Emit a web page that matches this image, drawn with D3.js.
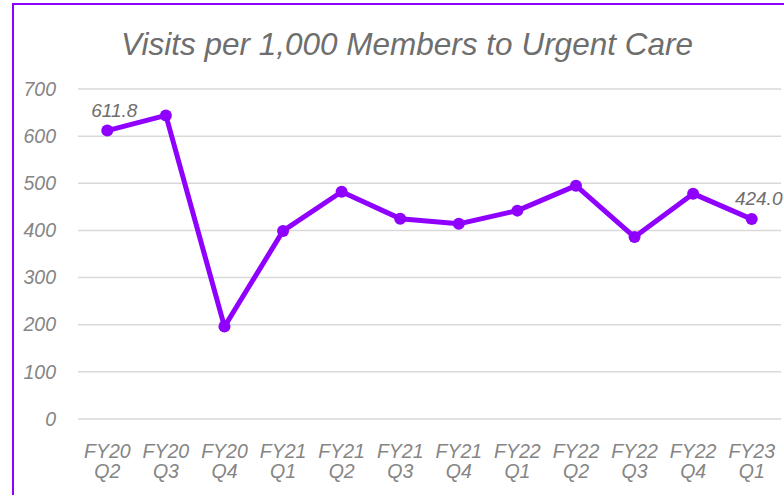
<!DOCTYPE html>
<html lang="en">
<head>
<meta charset="UTF-8">
<title>Visits per 1,000 Members to Urgent Care</title>
<script src="https://d3js.org/d3.v7.min.js"></script>
<style>
  body { margin: 0; background: #fff; }
  text { font-family: "Liberation Sans", Arial, sans-serif; font-style: italic; }
</style>
</head>
<body>
<div id="chart"></div>
<script>
// data
const quarters = ["FY20 Q2", "FY20 Q3", "FY20 Q4", "FY21 Q1", "FY21 Q2", "FY21 Q3",
                  "FY21 Q4", "FY22 Q1", "FY22 Q2", "FY22 Q3", "FY22 Q4", "FY23 Q1"];
const visits = [611.8, 644, 196, 399, 482, 425, 414, 442, 495, 386, 478, 424.0];
const yTicks = [0, 100, 200, 300, 400, 500, 600, 700];
const labelled = [0, 11]; // points that carry a data label

const W = 784, H = 495;
const purple = "#8f00ff";

let svg = d3.select("#chart").append("svg")
    .attr("width", W)
    .attr("height", H);

// frame (only top and left edges are visible in the shot)
svg.append("rect")
    .attr("x", 13).attr("y", 4)
    .attr("width", W + 20).attr("height", H + 20)
    .attr("fill", "none")
    .attr("stroke", purple)
    .attr("stroke-width", 2);

// title
svg.append("text")
    .attr("x", 407).attr("y", 55)
    .attr("text-anchor", "middle")
    .attr("font-size", 31.5)
    .attr("fill", "#6e6e6e")
    .text("Visits per 1,000 Members to Urgent Care");

let x = d3.scaleBand()
    .domain(quarters)
    .range([78, 781]);

let y = d3.scaleLinear()
    .domain([0, 700])
    .range([419, 89]);

// gridlines
svg.selectAll(".grid")
    .data(yTicks)
    .enter().append("line")
        .attr("x1", 78).attr("x2", 781)
        .attr("y1", d => y(d)).attr("y2", d => y(d))
        .attr("stroke", "#d9d9d9")
        .attr("stroke-width", 1.5);

// y axis labels
let yAxis = svg.append("g")
    .attr("transform", "translate(56,0)")
    .call(d3.axisLeft(y).tickValues(yTicks).tickSize(0).tickPadding(0));
yAxis.select(".domain").remove();
yAxis.selectAll("text")
    .attr("font-size", 19.5)
    .attr("fill", "#858585")
    .attr("font-family", null);

// x axis labels on two lines
let xAxis = svg.append("g")
    .attr("transform", "translate(0,440)")
    .call(d3.axisBottom(x).tickSize(0).tickFormat(""));
xAxis.select(".domain").remove();
xAxis.selectAll(".tick").append("text")
    .attr("text-anchor", "middle")
    .attr("font-size", 19.5)
    .attr("fill", "#858585")
    .selectAll("tspan")
    .data(d => d.split(" "))
    .enter().append("tspan")
        .attr("x", 0)
        .attr("y", (d, i) => 18 + i * 20)
        .text(d => d);

// line
let line = d3.line()
    .x((d, i) => x(quarters[i]) + x.bandwidth() / 2)
    .y(d => y(d));

svg.append("path")
    .datum(visits)
    .attr("d", line)
    .attr("fill", "none")
    .attr("stroke", purple)
    .attr("stroke-width", 5)
    .attr("stroke-linejoin", "round");

svg.selectAll(".dot")
    .data(visits)
    .enter().append("circle")
        .attr("cx", (d, i) => x(quarters[i]) + x.bandwidth() / 2)
        .attr("cy", d => y(d))
        .attr("r", 6)
        .attr("fill", purple);

// data labels
svg.selectAll(".lbl")
    .data(labelled)
    .enter().append("text")
        .attr("x", i => x(quarters[i]) + x.bandwidth() / 2 + 7)
        .attr("y", i => y(visits[i]) - 14)
        .attr("text-anchor", "middle")
        .attr("font-size", 19)
        .attr("fill", "#6e6e6e")
        .text(i => visits[i].toFixed(1));
</script>
</body>
</html>
